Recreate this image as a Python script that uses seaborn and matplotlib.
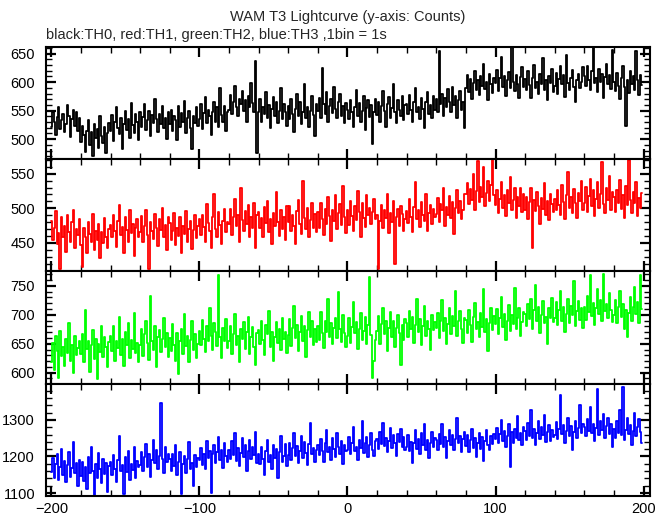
import numpy as np
import pandas as pd
import matplotlib
matplotlib.use("Agg")
import matplotlib.pyplot as plt
from matplotlib.ticker import MultipleLocator
import seaborn as sns

# ==========================================
# Data (counts per 1 s bin)
# ==========================================

time_s = np.arange(-200, 200)

th0_counts = [
    521, 548, 530, 507, 539, 556, 518, 533, 545, 512, 527, 560, 541, 503, 536, 552, 524, 547, 515, 538,
    495, 523, 508, 478, 515, 534, 490, 512, 470, 527, 502, 518, 485, 540, 506, 493, 521, 475, 511, 529,
    514, 542, 497, 531, 556, 520, 509, 538, 483, 527, 549, 516, 535, 502, 563, 525, 511, 544, 530, 498,
    548, 522, 539, 561, 517, 534, 550, 505, 543, 528, 571, 536, 512, 545, 527, 559, 520, 538, 501, 547,
    526, 552, 515, 540, 533, 498, 558, 521, 546, 530, 567, 511, 537, 549, 519, 483, 541, 528, 556, 524,
    535, 561, 518, 546, 574, 529, 552, 540, 507, 548, 565, 531, 556, 522, 589, 543, 530, 558, 515, 547,
    552, 578, 545, 566, 593, 557, 540, 571, 562, 584, 549, 568, 531, 575, 556, 598, 563, 547, 638, 476,
    548, 571, 530, 556, 545, 582, 537, 560, 519, 553, 574, 541, 566, 528, 550, 590, 535, 562, 547, 524,
    559, 536, 571, 545, 512, 553, 580, 540, 565, 527, 548, 596, 538, 557, 521, 549, 575, 543, 506, 561,
    549, 572, 538, 625, 561, 544, 583, 530, 558, 570, 546, 591, 553, 537, 566, 580, 541, 559, 528, 564,
    552, 536, 569, 548, 522, 557, 586, 540, 563, 531, 549, 575, 517, 554, 568, 539, 560, 492, 547, 571,
    543, 566, 530, 558, 585, 549, 521, 562, 574, 538, 555, 597, 547, 528, 569, 551, 540, 576, 533, 560,
    561, 545, 578, 552, 531, 566, 590, 548, 557, 536, 572, 553, 519, 565, 582, 544, 560, 538, 575, 551,
    570, 548, 655, 562, 580, 541, 573, 556, 588, 565, 547, 592, 560, 575, 538, 569, 584, 552, 566, 519,
    590, 612, 583, 605, 571, 598, 620, 586, 603, 577, 611, 594, 632, 588, 600, 568, 615, 596, 581, 607,
    598, 621, 585, 607, 644, 592, 610, 576, 603, 618, 589, 661, 600, 584, 613, 597, 572, 609, 626, 591,
    605, 587, 619, 595, 573, 608, 631, 590, 601, 579, 614, 596, 642, 586, 603, 568, 611, 598, 624, 583,
    593, 617, 580, 605, 629, 596, 612, 574, 648, 599, 586, 608, 621, 591, 566, 604, 615, 589, 601, 627,
    611, 594, 628, 603, 587, 619, 660, 598, 607, 582, 624, 601, 615, 573, 609, 632, 596, 612, 588, 656,
    600, 585, 617, 594, 571, 608, 629, 592, 523, 604, 581, 619, 597, 610, 586, 655, 603, 578, 612, 595,
]

th1_counts = [
    482, 455, 471, 496, 448, 465, 413, 488, 459, 474, 437, 491, 466, 452, 480, 498, 443, 470, 461, 485,
    447, 415, 472, 458, 436, 481, 463, 451, 492, 440, 468, 455, 478, 429, 466, 450, 486, 458, 443, 470,
    476, 459, 490, 467, 444, 482, 505, 461, 473, 436, 488, 469, 452, 497, 465, 478, 431, 471, 484, 458,
    466, 489, 452, 475, 498, 461, 413, 480, 467, 456, 492, 471, 445, 484, 469, 501, 458, 476, 440, 487,
    479, 455, 468, 493, 447, 472, 460, 488, 436, 475, 463, 496, 451, 470, 482, 441, 469, 490, 457, 474,
    485, 462, 491, 473, 451, 506, 479, 468, 443, 488, 521, 470, 459, 494, 476, 448, 482, 499, 466, 480,
    477, 499, 462, 488, 513, 474, 491, 452, 530, 483, 467, 496, 478, 505, 459, 487, 472, 508, 443, 490,
    495, 471, 486, 458, 502, 479, 511, 466, 484, 449, 493, 475, 524, 481, 460, 497, 470, 488, 455, 503,
    480, 503, 467, 491, 474, 449, 496, 512, 478, 463, 540, 486, 470, 501, 458, 483, 507, 472, 492, 466,
    494, 472, 507, 485, 461, 499, 478, 516, 489, 453, 498, 482, 519, 470, 493, 506, 476, 532, 487, 464,
    498, 476, 511, 489, 467, 503, 483, 525, 494, 459, 508, 486, 473, 519, 490, 501, 478, 495, 513, 484,
    491, 413, 482, 505, 471, 497, 486, 520, 464, 493, 480, 510, 420, 488, 499, 475, 503, 492, 468, 485,
    496, 479, 514, 488, 466, 502, 538, 484, 497, 473, 509, 491, 482, 521, 468, 493, 505, 477, 499, 487,
    492, 515, 481, 506, 497, 529, 474, 502, 490, 518, 486, 509, 463, 500, 527, 493, 511, 484, 498, 521,
    520, 537, 506, 528, 512, 549, 498, 525, 568, 509, 531, 516, 560, 503, 522, 540, 511, 534, 570, 519,
    505, 527, 493, 514, 538, 501, 519, 489, 526, 508, 545, 497, 512, 530, 486, 516, 503, 529, 495, 521,
    498, 517, 485, 509, 530, 443, 512, 496, 524, 503, 478, 515, 499, 537, 491, 510, 483, 520, 506, 494,
    514, 497, 526, 505, 491, 533, 509, 484, 519, 552, 500, 516, 493, 528, 507, 486, 522, 511, 539, 498,
    507, 531, 495, 518, 543, 503, 526, 489, 514, 538, 500, 521, 567, 506, 493, 529, 512, 547, 498, 523,
    516, 495, 527, 508, 541, 499, 519, 486, 532, 505, 570, 512, 493, 524, 507, 538, 489, 515, 501, 522,
]

th2_counts = [
    618, 651, 605, 664, 637, 590, 672, 628, 645, 611, 658, 634, 686, 620, 647, 599, 663, 630, 642, 655,
    632, 667, 618, 709, 641, 655, 602, 648, 674, 623, 659, 589, 650, 636, 681, 627, 662, 644, 610, 653,
    664, 638, 680, 621, 655, 643, 697, 630, 659, 612, 670, 648, 686, 625, 657, 641, 703, 634, 652, 618,
    647, 676, 629, 666, 690, 651, 622, 733, 655, 640, 681, 609, 662, 673, 636, 658, 695, 644, 668, 627,
    660, 637, 684, 648, 621, 669, 597, 655, 676, 632, 701, 646, 663, 618, 657, 689, 640, 667, 625, 650,
    672, 648, 691, 658, 636, 680, 655, 712, 663, 639, 685, 670, 646, 768, 661, 626, 678, 654, 693, 642,
    655, 681, 633, 667, 702, 648, 664, 618, 676, 659, 688, 641, 670, 697, 632, 662, 679, 645, 613, 668,
    674, 649, 690, 657, 631, 683, 666, 707, 645, 670, 620, 662, 688, 651, 676, 639, 695, 658, 671, 634,
    665, 692, 646, 678, 715, 660, 683, 637, 671, 698, 655, 680, 627, 673, 704, 662, 689, 648, 676, 653,
    681, 656, 704, 668, 642, 690, 671, 727, 662, 685, 649, 678, 694, 660, 739, 675, 653, 699, 668, 645,
    664, 694, 652, 679, 722, 668, 688, 641, 676, 703, 657, 672, 696, 649, 683, 765, 665, 590, 620, 656,
    672, 698, 650, 684, 711, 667, 689, 638, 677, 704, 661, 690, 645, 678, 700, 669, 613, 683, 656, 692,
    686, 661, 706, 675, 697, 652, 683, 728, 670, 692, 647, 681, 715, 664, 689, 676, 640, 699, 673, 687,
    678, 703, 660, 690, 726, 672, 695, 649, 684, 712, 667, 698, 680, 741, 663, 689, 706, 675, 652, 694,
    691, 668, 709, 682, 653, 697, 720, 676, 688, 661, 703, 679, 744, 670, 693, 638, 685, 711, 674, 698,
    684, 710, 667, 695, 731, 679, 702, 656, 690, 717, 672, 699, 684, 746, 676, 694, 711, 663, 688, 705,
    702, 681, 719, 693, 727, 676, 708, 752, 690, 713, 668, 700, 723, 685, 697, 650, 711, 694, 729, 688,
    695, 722, 682, 708, 741, 689, 713, 670, 701, 728, 686, 715, 699, 758, 680, 706, 724, 691, 712, 677,
    714, 691, 732, 705, 768, 698, 720, 683, 711, 745, 702, 725, 690, 770, 706, 719, 695, 737, 709, 688,
    699, 726, 685, 713, 742, 696, 718, 675, 708, 661, 703, 731, 690, 714, 748, 701, 722, 686, 768, 710,
]

th3_counts = [
    1158, 1195, 1142, 1180, 1207, 1136, 1172, 1221, 1150, 1188, 1129, 1176, 1213, 1145, 1168, 1239, 1154, 1183, 1120, 1190,
    1147, 1186, 1132, 1170, 1112, 1198, 1155, 1225, 1161, 1095, 1178, 1140, 1209, 1166, 1127, 1193, 1152, 1181, 1104, 1174,
    1185, 1148, 1203, 1166, 1129, 1191, 1255, 1160, 1176, 1097, 1199, 1157, 1214, 1135, 1180, 1163, 1226, 1141, 1188, 1170,
    1176, 1212, 1159, 1198, 1235, 1171, 1206, 1143, 1189, 1246, 1182, 1218, 1167, 1200, 1346, 1193, 1154, 1225, 1185, 1208,
    1192, 1161, 1207, 1174, 1230, 1148, 1186, 1213, 1096, 1178, 1201, 1155, 1194, 1240, 1167, 1183, 1118, 1205, 1172, 1197,
    1189, 1224, 1176, 1208, 1165, 1243, 1197, 1215, 1100, 1206, 1230, 1182, 1212, 1254, 1191, 1219, 1169, 1236, 1201, 1185,
    1218, 1194, 1241, 1205, 1263, 1187, 1222, 1174, 1209, 1250, 1198, 1231, 1160, 1214, 1245, 1192, 1227, 1203, 1268, 1181,
    1208, 1179, 1226, 1193, 1150, 1215, 1244, 1186, 1203, 1166, 1230, 1197, 1221, 1142, 1211, 1255, 1184, 1202, 1235, 1173,
    1204, 1236, 1190, 1222, 1265, 1201, 1229, 1183, 1214, 1257, 1196, 1240, 1210, 1177, 1233, 1292, 1207, 1224, 1186, 1218,
    1230, 1205, 1247, 1216, 1184, 1238, 1272, 1211, 1227, 1191, 1250, 1220, 1199, 1263, 1225, 1208, 1241, 1178, 1232, 1215,
    1219, 1254, 1206, 1238, 1281, 1214, 1227, 1189, 1245, 1222, 1296, 1209, 1236, 1252, 1198, 1230, 1263, 1217, 1201, 1242,
    1248, 1220, 1267, 1235, 1292, 1229, 1251, 1213, 1243, 1279, 1224, 1258, 1236, 1201, 1262, 1240, 1275, 1226, 1253, 1218,
    1227, 1258, 1214, 1240, 1183, 1236, 1271, 1221, 1248, 1206, 1263, 1230, 1289, 1217, 1245, 1197, 1238, 1268, 1225, 1251,
    1246, 1219, 1262, 1234, 1288, 1226, 1254, 1195, 1243, 1272, 1231, 1260, 1218, 1247, 1305, 1236, 1255, 1211, 1249, 1266,
    1228, 1259, 1213, 1244, 1276, 1222, 1250, 1199, 1237, 1264, 1221, 1253, 1187, 1241, 1271, 1230, 1218, 1256, 1234, 1262,
    1248, 1279, 1236, 1262, 1300, 1242, 1270, 1225, 1257, 1289, 1171, 1266, 1238, 1274, 1251, 1310, 1244, 1263, 1231, 1281,
    1269, 1245, 1291, 1256, 1327, 1250, 1276, 1232, 1263, 1298, 1247, 1280, 1258, 1312, 1239, 1267, 1286, 1242, 1271, 1254,
    1258, 1293, 1247, 1274, 1368, 1261, 1285, 1236, 1270, 1304, 1255, 1282, 1219, 1266, 1297, 1251, 1279, 1340, 1263, 1288,
    1281, 1256, 1302, 1270, 1334, 1265, 1290, 1243, 1277, 1385, 1260, 1296, 1272, 1315, 1251, 1283, 1306, 1262, 1289, 1227,
    1276, 1250, 1297, 1265, 1328, 1258, 1390, 1244, 1273, 1306, 1261, 1287, 1232, 1269, 1318, 1255, 1280, 1303, 1266, 1238,
]

series_names = ["TH0", "TH1", "TH2", "TH3"]
series_counts = [th0_counts, th1_counts, th2_counts, th3_counts]
series_colors = ["black", "#ff0000", "#00ff00", "#0000ff"]

# ==========================================
# Panel settings
# ==========================================

y_limits = [(465, 662), (409, 571), (581, 775), (1092, 1399)]
y_major = [50, 50, 50, 100]
y_minor = [10, 10, 10, 20]

sns.set_style("ticks")
plt.rcParams["font.family"] = ["Liberation Sans", "DejaVu Sans"]

fig, axes = plt.subplots(4, 1, figsize=(6.69, 5.15), dpi=100, sharex=True)
fig.subplots_adjust(left=0.069, right=0.972, top=0.909, bottom=0.037, hspace=0)

for ax, name, counts, color, ylim, ymaj, ymin in zip(
    axes, series_names, series_counts, series_colors, y_limits, y_major, y_minor
):
    df = pd.DataFrame({"time": time_s, "counts": counts})
    sns.lineplot(
        data=df, x="time", y="counts", ax=ax, color=color,
        estimator=None, drawstyle="steps-mid", linewidth=1.3,
    )
    ax.set_xlim(-203.5, 204.5)
    ax.set_ylim(*ylim)
    ax.xaxis.set_major_locator(MultipleLocator(100))
    ax.xaxis.set_minor_locator(MultipleLocator(20))
    ax.yaxis.set_major_locator(MultipleLocator(ymaj))
    ax.yaxis.set_minor_locator(MultipleLocator(ymin))
    ax.tick_params(which="both", direction="in", top=True, right=True,
                   labelsize=10.5, color="black", labelcolor="black")
    ax.tick_params(which="major", length=7, width=1.6, pad=8)
    ax.tick_params(which="minor", length=4, width=1)
    ax.tick_params(axis="x", which="major", pad=4)
    for sp in ax.spines.values():
        sp.set_linewidth(1.5)
        sp.set_color("black")
    ax.set_xlabel("")
    ax.set_ylabel("")

fig.text(0.52, 0.967, "WAM T3 Lightcurve (y-axis: Counts)", ha="center", va="center", fontsize=10.5)
fig.text(0.069, 0.932, "black:TH0, red:TH1, green:TH2, blue:TH3 ,1bin = 1s",
         ha="left", va="center", fontsize=10.5)

fig.savefig("out.png", dpi=100)
